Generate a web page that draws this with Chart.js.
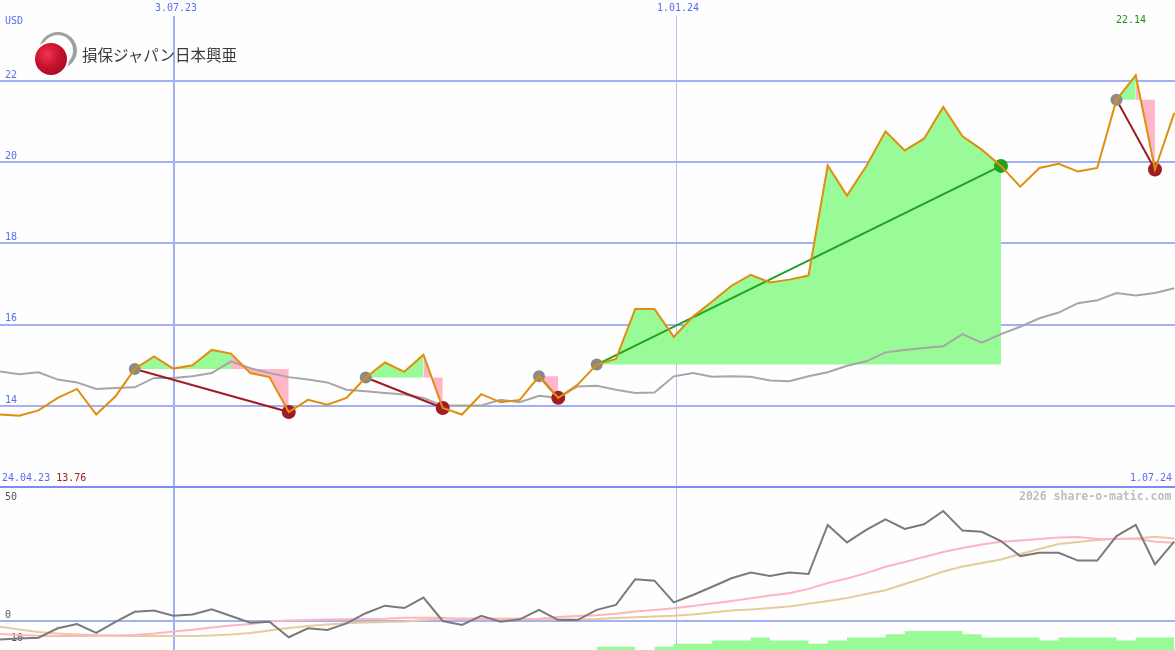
<!DOCTYPE html>
<html>
<head>
<meta charset="utf-8">
<script src="https://cdn.jsdelivr.net/npm/chart.js@4.4.1/dist/chart.umd.min.js"></script>
<style>
  body { margin: 0; background: #fdfefd; }
  #wrap { position: relative; width: 1175px; height: 650px; overflow: hidden; background: #fdfefd;
          font-family: "DejaVu Sans Mono", monospace; font-size: 10px; }
  canvas { position: absolute; left: 0; }
  #priceChart { top: 0; }
  #oscChart { top: 486px; }
  .lbl { position: absolute; white-space: nowrap; line-height: 10px; color: #5b6cf0; }
  .ring { position: absolute; left: 39px; top: 32px; width: 31px; height: 31px; border-radius: 50%;
          border: 3px solid #a0a0a0; border-right-width: 4px; }
  .ball { position: absolute; left: 33px; top: 41px; width: 32px; height: 32px; border-radius: 50%;
          border: 2px solid #fdfefd;
          background: radial-gradient(circle at 38% 35%, #f0344e 0%, #c8102e 45%, #8c0a1e 100%); }
  .name { position: absolute; left: 82px; top: 44px; font-family: "Noto Sans CJK JP", sans-serif;
          font-size: 15.5px; line-height: 20px; color: #3a3a3a; white-space: nowrap; }
</style>
</head>
<body>
<div id="wrap">
  <canvas id="priceChart" width="1175" height="486"></canvas>
  <canvas id="oscChart" width="1175" height="164"></canvas>
  <div class="ring"></div>
  <div class="ball"></div>
  <div class="name">損保ジャパン日本興亜</div>
  <div class="lbl" style="left:5px; top:16px;">USD</div>
  <div class="lbl" style="left:1116px; top:15px; color:#149414;">22.14</div>
  <div class="lbl" style="left:2px; top:473px;">24.04.23 <span style="color:#a01c24;">13.76</span></div>
  <div class="lbl" style="left:1130px; top:473px;">1.07.24</div>
  <div class="lbl" style="left:1019px; top:490px; color:#bdbdbd; font-weight:bold; font-size:11.5px; line-height:12px;">2026 share-o-matic.com</div>
</div>
<script>
// weekly closes (USD), one value per week, index 0 = first week on screen
const price = [13.79, 13.76, 13.89, 14.20, 14.42, 13.79, 14.24, 14.91, 15.22, 14.92,
               15.00, 15.38, 15.29, 14.81, 14.71, 13.85, 14.15, 14.03, 14.20, 14.70,
               15.07, 14.84, 15.26, 13.95, 13.79, 14.29, 14.09, 14.15, 14.73, 14.20,
               14.52, 15.02, 15.16, 16.39, 16.39, 15.70, 16.20, 16.57, 16.96, 17.23,
               17.04, 17.11, 17.21, 19.92, 19.18, 19.90, 20.76, 20.29, 20.58, 21.36,
               20.64, 20.31, 19.91, 19.40, 19.86, 19.96, 19.77, 19.86, 21.54, 22.14,
               19.82, 21.21];
// moving average
const avg = [14.85, 14.78, 14.83, 14.65, 14.58, 14.42, 14.44, 14.46, 14.69, 14.69,
             14.73, 14.81, 15.10, 14.93, 14.81, 14.71, 14.65, 14.58, 14.40, 14.36,
             14.32, 14.28, 14.20, 14.01, 14.01, 14.01, 14.15, 14.09, 14.25, 14.20,
             14.48, 14.50, 14.40, 14.32, 14.33, 14.73, 14.81, 14.72, 14.73, 14.72,
             14.63, 14.61, 14.73, 14.83, 14.99, 15.10, 15.32, 15.38, 15.43, 15.47,
             15.77, 15.56, 15.77, 15.95, 16.16, 16.30, 16.53, 16.60, 16.78, 16.72,
             16.78, 16.90];
// lower panel
const momentum = [-7.8, -7.4, -7.1, -3.1, -1.3, -5.0, -0.4, 3.9, 4.4, 2.2,
                  2.8, 5.0, 2.1, -0.7, -0.3, -6.9, -3.1, -3.8, -1.0, 3.3,
                  6.5, 5.5, 9.9, 0.0, -1.7, 2.2, -0.3, 0.7, 4.7, 0.4,
                  0.4, 4.7, 6.8, 17.7, 17.1, 7.9, 11.0, 14.5, 18.1, 20.5,
                  19.1, 20.5, 19.9, 40.7, 33.3, 38.6, 43.1, 39.0, 41.0, 46.6,
                  38.3, 37.8, 33.9, 27.5, 28.9, 28.9, 25.6, 25.6, 36.0, 40.7,
                  24.0, 33.6];
const fastLine = [-5.5, -5.9, -6.2, -6.4, -6.4, -6.3, -6.1, -5.9, -5.3, -4.5,
                  -3.7, -2.8, -1.9, -1.3, -0.2, 0.2, 0.4, 0.6, 0.7, 0.8,
                  1.0, 1.4, 1.4, 1.4, 0.7, 0.7, 0.7, 0.7, 1.0, 1.7,
                  2.1, 2.4, 3.1, 4.0, 4.7, 5.4, 6.4, 7.4, 8.5, 9.6,
                  10.8, 11.8, 13.6, 16.1, 18.0, 20.3, 23.0, 25.0, 27.1, 29.2,
                  30.9, 32.4, 33.6, 34.1, 34.7, 35.4, 35.6, 34.7, 34.7, 35.0,
                  33.6, 33.2];
const slowLine = [-2.4, -3.6, -4.7, -5.3, -5.7, -6.0, -6.2, -6.4, -6.4, -6.4,
                  -6.4, -6.1, -5.7, -5.1, -4.0, -3.0, -2.1, -1.5, -1.0, -0.6,
                  -0.4, -0.3, 0.4, 1.1, 1.1, 1.1, 1.1, 1.1, 0.7, 0.7,
                  0.7, 0.8, 1.3, 1.6, 1.9, 2.2, 2.8, 3.6, 4.4, 4.9,
                  5.5, 6.1, 7.3, 8.5, 9.7, 11.4, 13.0, 15.7, 18.2, 21.0,
                  23.1, 24.6, 26.1, 28.4, 30.5, 32.6, 33.5, 34.3, 34.7, 35.0,
                  35.7, 35.0];
const histogram = [0, 0, 0, 0, 0, 0, 0, 0, 0, 0,
                   0, 0, 0, 0, 0, 0, 0, 0, 0, 0,
                   0, 0, 0, 0, 0, 0, 0, 0, 0, 0,
                   0, 0, 1, 1, 0, 1, 2, 2, 3, 3,
                   4, 3, 3, 2, 3, 4, 4, 5, 6, 6,
                   6, 5, 4, 4, 4, 3, 4, 4, 4, 3,
                   4, 4];
// signals: entry week, week where green turns pink, exit week
const tradeEntry = [7, 19, 28, 31, 58];
const tradeTurn = [12, 22, 28, 52, 59];
const tradeExit = [15, 23, 29, 52, 60];
// axis ticks
const dateTickPos = [9.04, 35.12];
const dateLabels = ['3.07.23', '1.01.24'];
const priceTicks = [14, 16, 18, 20, 22];
const oscTicks = [50, 0, -10];

const monoFont = { family: 'DejaVu Sans Mono', size: 10 };
const blueText = '#5b6cf0';
const gridBlue = '#a3b1f4';
const green = '#98fb98';
const pink = '#ffb6c8';

function seg(from, to) {
    return price.slice(from, to + 1).map((v, k) => ({ x: from + k, y: v }));
}
function xy(arr) {
    return arr.map((v, i) => ({ x: i, y: v }));
}
// no extra room around the plot: the panels fill the whole canvas
function noPadding(s) {
    s.paddingLeft = s.paddingRight = s.paddingTop = s.paddingBottom = 0;
}

function dateAxis(showLabels) {
    return {
        type: 'linear',
        position: 'top',
        min: 0,
        max: 61.04,
        bounds: 'data',
        afterBuildTicks: s => { s.ticks = dateTickPos.map(v => ({ value: v })); },
        afterFit: s => { s.height = showLabels ? 16 : 0; noPadding(s); },
        grid: {
            drawTicks: false,
            color: ctx => ctx.index === 0 ? '#a0aef4' : '#b8c3f4',
            lineWidth: ctx => ctx.index === 0 ? 2 : 1
        },
        border: { display: false },
        ticks: {
            display: showLabels,
            autoSkip: false,
            maxRotation: 0,
            padding: 2,
            labelOffset: 2,
            font: monoFont,
            color: blueText,
            callback: (v, i) => dateLabels[i]
        }
    };
}

// Datasets for the price panel
const priceSets = [];
priceSets.push({
    label: 'price', data: xy(price), borderColor: '#e08e0b', borderWidth: 2,
    pointRadius: 0, tension: 0, order: 1
});

const entryPts = [], exitPts = [], exitColors = [];
tradeEntry.forEach((e, t) => {
    const turn = tradeTurn[t], x = tradeExit[t];
    const win = price[x] > price[e];
    if (turn > e) {
        priceSets.push({ data: seg(e, turn), fill: { value: price[e] }, backgroundColor: green,
            borderColor: 'transparent', borderWidth: 0, pointRadius: 0, order: 10 });
    }
    if (x > turn) {
        priceSets.push({ data: seg(turn, x), fill: { value: price[e] }, backgroundColor: pink,
            borderColor: 'transparent', borderWidth: 0, pointRadius: 0, order: 10 });
    }
    priceSets.push({
        data: [{ x: e, y: price[e] }, { x: x, y: price[x] }],
        borderColor: win ? '#22a022' : '#a01c24', borderWidth: 2, pointRadius: 0, order: 4
    });
    entryPts.push({ x: e, y: price[e] });
    exitPts.push({ x: x, y: price[x] });
    exitColors.push(win ? '#22a022' : '#a01c24');
});
priceSets.push({
    data: entryPts, showLine: false, pointRadius: 6, pointBackgroundColor: '#8a8a8a',
    pointBorderWidth: 0, order: 2
});
priceSets.push({
    data: exitPts, showLine: false, pointRadius: 7, pointBackgroundColor: exitColors,
    pointBorderWidth: 0, order: 2
});
priceSets.push({
    label: 'avg', data: xy(avg), borderColor: '#a6a6a6', borderWidth: 2,
    pointRadius: 0, tension: 0, order: 6
});

new Chart(document.getElementById('priceChart'), {
    type: 'line',
    data: { datasets: priceSets },
    options: {
        responsive: false,
        animation: false,
        devicePixelRatio: 1,
        events: [],
        layout: { autoPadding: false, padding: 0 },
        plugins: { legend: { display: false }, tooltip: { enabled: false } },
        scales: {
            x: dateAxis(true),
            y: {
                min: 12.03,
                max: 23.6,
                afterBuildTicks: s => { s.ticks = priceTicks.map(v => ({ value: v })); },
                afterFit: s => { s.width = 0; noPadding(s); },
                grid: { drawTicks: false, color: gridBlue, lineWidth: 2 },
                border: { display: false },
                ticks: { mirror: true, padding: 5, labelOffset: -6, font: monoFont, color: blueText,
                         callback: v => String(v) }
            }
        }
    }
});

// Lower panel
new Chart(document.getElementById('oscChart'), {
    type: 'line',
    data: {
        datasets: [
            { data: xy(momentum), borderColor: '#7a7a7a', borderWidth: 2, pointRadius: 0, order: 1 },
            { data: xy(fastLine), borderColor: '#ffb4c4', borderWidth: 2, pointRadius: 0, order: 2 },
            { data: xy(slowLine), borderColor: '#e6cc9c', borderWidth: 2, pointRadius: 0, order: 3 },
            { data: xy(histogram), yAxisID: 'yh', stepped: 'after', fill: 'start', backgroundColor: green,
              borderColor: 'transparent', borderWidth: 0, pointRadius: 0, order: 5 }
        ]
    },
    options: {
        responsive: false,
        animation: false,
        devicePixelRatio: 1,
        events: [],
        layout: { autoPadding: false, padding: { top: 1, left: 0, right: 0, bottom: 0 } },
        plugins: { legend: { display: false }, tooltip: { enabled: false } },
        scales: {
            x: dateAxis(false),
            y: {
                min: -12.29,
                max: 56.78,
                afterBuildTicks: s => { s.ticks = [s.max].concat(oscTicks).map(v => ({ value: v })); },
                afterFit: s => { s.width = 0; noPadding(s); },
                grid: {
                    drawTicks: false,
                    lineWidth: 2,
                    color: ctx => ctx.index === 0 ? '#7c8cf2' : (ctx.tick.value === 0 ? gridBlue : 'transparent')
                },
                border: { display: false },
                ticks: { mirror: true, padding: 5, labelOffset: -6, font: monoFont, color: '#555555',
                         callback: (v, i) => i === 0 ? '' : String(v) }
            },
            yh: { display: false, min: 0, max: 51.75, afterFit: noPadding }
        }
    }
});
</script>
</body>
</html>
